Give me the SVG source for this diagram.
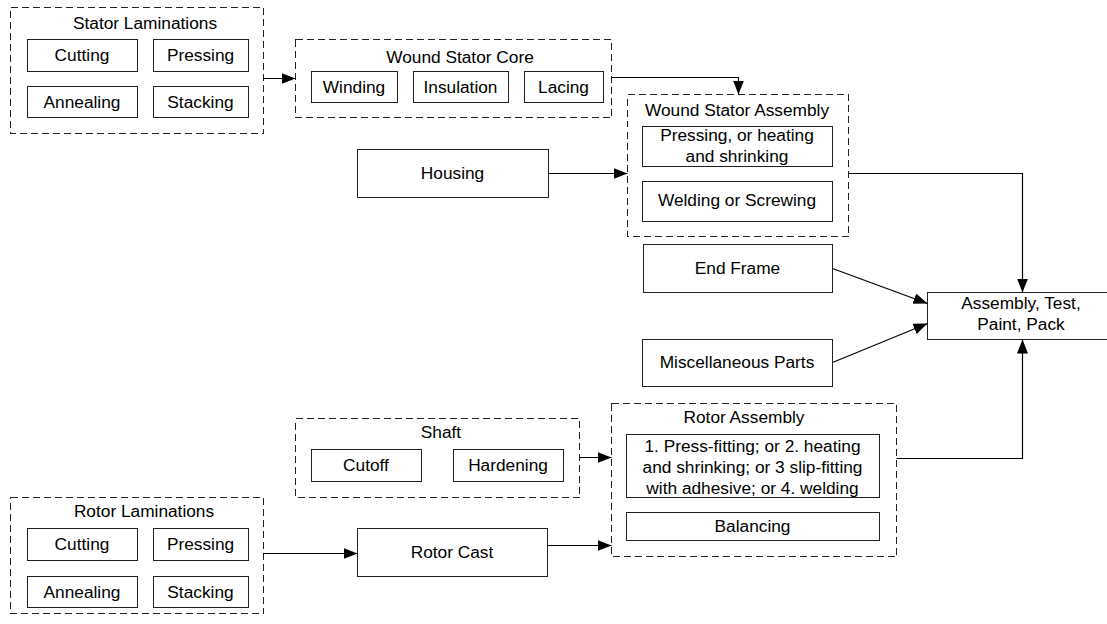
<svg xmlns="http://www.w3.org/2000/svg" width="1107" height="624" viewBox="0 0 1107 624">
  <style>
    text { font-family: "Liberation Sans", Arial, sans-serif; font-size: 17.3px; fill: #000; text-anchor: middle; }
    .grp { fill: none; stroke: #222; stroke-width: 1; stroke-dasharray: 7 4; shape-rendering: crispEdges; }
    .box { fill: #fff; stroke: #222; stroke-width: 1; shape-rendering: crispEdges; }
    .wire { fill: none; stroke: #000; stroke-width: 1.2; marker-end: url(#arrow); }
  </style>
  <defs>
    <marker id="arrow" viewBox="0 0 14 11" refX="14" refY="5.5" markerWidth="14" markerHeight="11" markerUnits="userSpaceOnUse" orient="auto">
      <path d="M0,0 L14,5.5 L0,11 Z" fill="#000"/>
    </marker>
  </defs>
  <rect width="1107" height="624" fill="#fff"/>

  <!-- Stator laminations group -->
  <g id="stator-laminations">
    <rect class="grp" x="10.5" y="7.5" width="253" height="126"/>
    <text x="145" y="29">Stator Laminations</text>
    <rect class="box" x="27.5" y="39.5" width="110" height="32"/>
    <text x="82" y="61">Cutting</text>
    <rect class="box" x="153.5" y="39.5" width="95" height="32"/>
    <text x="200.5" y="61">Pressing</text>
    <rect class="box" x="27.5" y="86.5" width="110" height="31"/>
    <text x="82" y="107.5">Annealing</text>
    <rect class="box" x="153.5" y="86.5" width="95" height="31"/>
    <text x="200.5" y="107.5">Stacking</text>
  </g>

  <!-- Wound stator core group -->
  <g id="wound-stator-core">
    <rect class="grp" x="295.5" y="39.5" width="316" height="78"/>
    <text x="460" y="63">Wound Stator Core</text>
    <rect class="box" x="311.5" y="71.5" width="86" height="31"/>
    <text x="354" y="92.5">Winding</text>
    <rect class="box" x="413.5" y="71.5" width="95" height="31"/>
    <text x="460.5" y="92.5">Insulation</text>
    <rect class="box" x="524.5" y="71.5" width="79" height="31"/>
    <text x="563.5" y="92.5">Lacing</text>
  </g>

  <!-- Wound stator assembly group -->
  <g id="wound-stator-assembly">
    <rect class="grp" x="627.5" y="94.5" width="221" height="142"/>
    <text x="737" y="116">Wound Stator Assembly</text>
    <rect class="box" x="642.5" y="126.5" width="190" height="40"/>
    <text x="737" y="141">Pressing, or heating</text>
    <text x="737" y="162">and shrinking</text>
    <rect class="box" x="642.5" y="181.5" width="190" height="40"/>
    <text x="737" y="206">Welding or Screwing</text>
  </g>

  <g id="housing">
    <rect class="box" x="357.5" y="149.5" width="191" height="48"/>
    <text x="452.5" y="179">Housing</text>
  </g>

  <g id="end-frame">
    <rect class="box" x="643.5" y="244.5" width="189" height="48"/>
    <text x="737.5" y="274">End Frame</text>
  </g>

  <g id="misc-parts">
    <rect class="box" x="642.5" y="339.5" width="190" height="47"/>
    <text x="737" y="368">Miscellaneous Parts</text>
  </g>

  <g id="final-assembly">
    <rect class="box" x="927.5" y="292.5" width="193" height="47"/>
    <text x="1021" y="309">Assembly, Test,</text>
    <text x="1021" y="330">Paint, Pack</text>
  </g>

  <!-- Shaft group -->
  <g id="shaft">
    <rect class="grp" x="295.5" y="418.5" width="284" height="79"/>
    <text x="441" y="438">Shaft</text>
    <rect class="box" x="311.5" y="449.5" width="110" height="32"/>
    <text x="366" y="471">Cutoff</text>
    <rect class="box" x="453.5" y="449.5" width="110" height="32"/>
    <text x="508" y="471">Hardening</text>
  </g>

  <!-- Rotor assembly group -->
  <g id="rotor-assembly">
    <rect class="grp" x="611.5" y="403.5" width="285" height="153"/>
    <text x="744" y="423">Rotor Assembly</text>
    <rect class="box" x="626.5" y="434.5" width="253" height="63"/>
    <text x="752.5" y="452">1. Press-fitting; or 2. heating</text>
    <text x="752.5" y="473">and shrinking; or 3 slip-fitting</text>
    <text x="752.5" y="494">with adhesive; or 4. welding</text>
    <rect class="box" x="626.5" y="512.5" width="253" height="28"/>
    <text x="752.5" y="532">Balancing</text>
  </g>

  <!-- Rotor laminations group -->
  <g id="rotor-laminations">
    <rect class="grp" x="10.5" y="497.5" width="253" height="116"/>
    <text x="144" y="517">Rotor Laminations</text>
    <rect class="box" x="27.5" y="528.5" width="110" height="32"/>
    <text x="82" y="550">Cutting</text>
    <rect class="box" x="153.5" y="528.5" width="95" height="32"/>
    <text x="200.5" y="550">Pressing</text>
    <rect class="box" x="27.5" y="576.5" width="110" height="31"/>
    <text x="82" y="597.5">Annealing</text>
    <rect class="box" x="153.5" y="576.5" width="95" height="31"/>
    <text x="200.5" y="597.5">Stacking</text>
  </g>

  <g id="rotor-cast">
    <rect class="box" x="357.5" y="528.5" width="190" height="48"/>
    <text x="452" y="558">Rotor Cast</text>
  </g>

  <!-- Connectors -->
  <g id="connectors">
    <path class="wire" d="M263.5,78.5 H295.5"/>
    <path class="wire" d="M611.5,77.5 H738.5 V94.5"/>
    <path class="wire" d="M548.5,173.5 H627.5"/>
    <path class="wire" d="M848.5,173.5 H1022.5 V292.5"/>
    <path class="wire" d="M832.5,268.5 L927.5,303.5"/>
    <path class="wire" d="M832.5,362.5 L927.5,323.5"/>
    <path class="wire" d="M579.5,457.5 H611.5"/>
    <path class="wire" d="M896.5,458.5 H1022.5 V339.5"/>
    <path class="wire" d="M263.5,553.5 H357.5"/>
    <path class="wire" d="M547.5,545.5 H611.5"/>
  </g>
</svg>
